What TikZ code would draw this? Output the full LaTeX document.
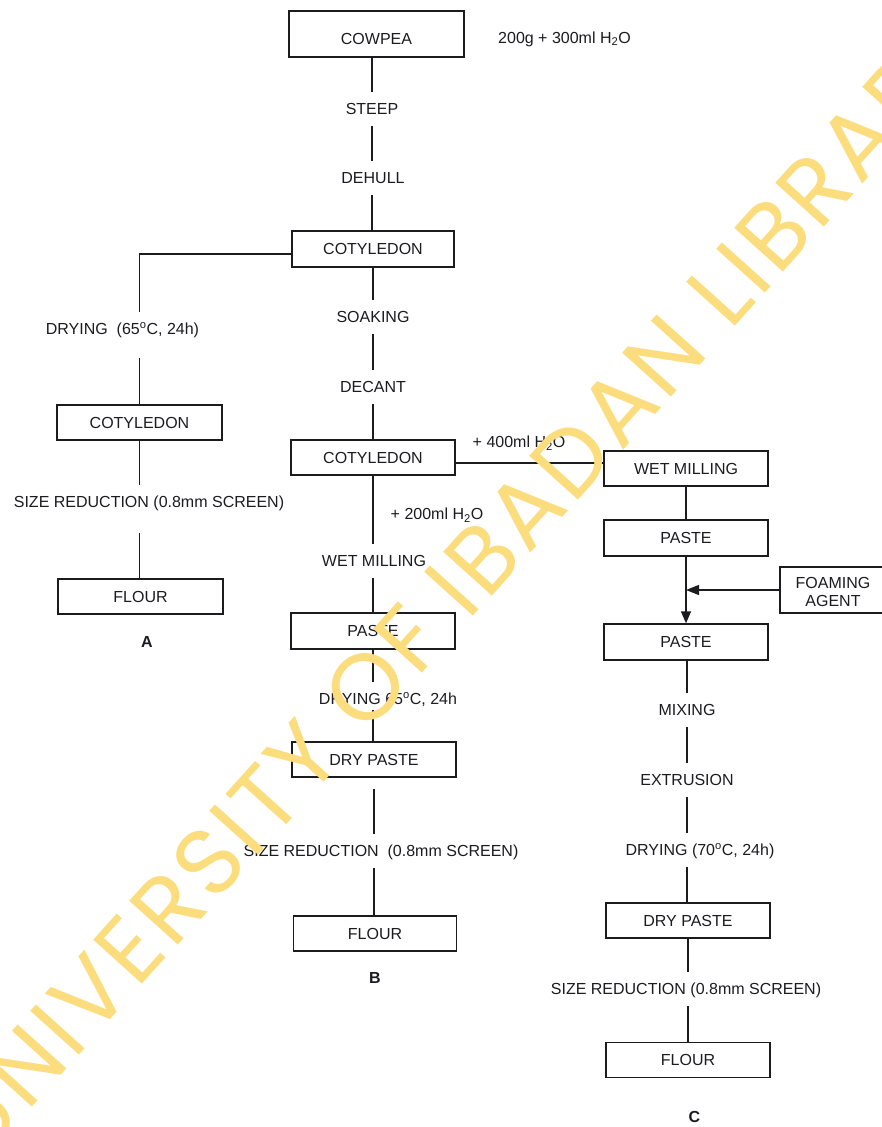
\documentclass[tikz,border=0pt]{standalone}
\usepackage{fontspec}
\setmainfont{Liberation Sans}
\newfontfamily\wmfont{Poppins}[LetterSpace=4.5]
\usetikzlibrary{arrows.meta,calc}
\definecolor{ink}{RGB}{28,28,32}
\definecolor{wmyellow}{RGB}{252,221,125}
\newlength\wmw
\newlength\wmi
\begin{document}
\settowidth\wmw{\wmfont\fontsize{94}{94}\selectfont UNIVERSITY OF IBADAN L}%
\settowidth\wmi{\wmfont\fontsize{94}{94}\selectfont I}%
\addtolength\wmw{0.5\wmi}%
\begin{tikzpicture}[x=1pt,y=-1pt,
  every node/.style={font=\fontsize{16}{19}\selectfont, text=ink},
  box/.style={draw=ink, line width=1.4pt, minimum height=35pt, inner sep=0pt, text height=11.5pt, text depth=0pt},
  lbl/.style={inner xsep=2pt, inner ysep=11.5pt, text height=11.5pt, text depth=0pt},
  conn/.style={draw=ink, line width=1.4pt},
  tag/.style={font=\fontsize{16}{19}\selectfont\bfseries},
  tip/.style={-{Triangle[length=12pt,width=10pt]}}
]
\fill[white] (0,0) rectangle (882,1127);
\useasboundingbox (0,0) rectangle (882,1127);

% top
\node[box, minimum width=175pt, minimum height=46pt, text height=21.5pt] (cowpea) at (376.5,34) {COWPEA};
\node (ratio) at (564.5,39) {200g + 300ml H\textsubscript{2}O};
\node[lbl] (steep) at (372,109) {STEEP};
\node[lbl] (dehull) at (373,178) {DEHULL};
\node[box, minimum width=162pt, minimum height=36pt] (cot1) at (373,249) {COTYLEDON};

% column A
\node[lbl] (dryA) at (122.5,329) {DRYING \ (65\textsuperscript{o}C, 24h)};
\node[box, minimum width=165pt] (cotA) at (139.5,422.5) {COTYLEDON};
\node[lbl] (sizeA) at (149,502) {SIZE REDUCTION (0.8mm SCREEN)};
\node[box, minimum width=165pt] (flourA) at (140.5,596.5) {FLOUR};
\node[tag] (labA) at (147,642) {A};

% column B
\node[lbl] (soak) at (373,317) {SOAKING};
\node[lbl] (decant) at (373,387) {DECANT};
\node[box, minimum width=164pt] (cot2) at (373,457.5) {COTYLEDON};
\node (add200) at (437,515) {+ 200ml H\textsubscript{2}O};
\node[lbl] (wetB) at (374,561) {WET MILLING};
\node[box, minimum width=164pt, minimum height=36pt] (pasteB) at (373,631) {PASTE};
\node[lbl] (dryB) at (388,699) {DRYING 65\textsuperscript{o}C, 24h};
\node[box, minimum width=164pt] (dryBox) at (374,759.5) {DRY PASTE};
\node[lbl] (sizeB) at (381,851) {SIZE REDUCTION \ (0.8mm SCREEN)};
\node[box, minimum width=163pt] (flourB) at (375,933.5) {FLOUR};
\node[tag] (labB) at (375,978) {B};

% column C
\node (add400) at (519,443) {+ 400ml H\textsubscript{2}O};
\node[box, minimum width=164pt] (wetC) at (686,468.5) {WET MILLING};
\node[box, minimum width=164pt, minimum height=36pt] (pasteC1) at (686,538) {PASTE};
\node[box, minimum width=124pt, minimum height=46pt] (foam) at (842,590) {};
\node[align=center, font=\fontsize{16}{18.7}\selectfont] (foamtxt) at (833,592) {FOAMING\\AGENT};
\node[box, minimum width=164pt, minimum height=36pt] (pasteC2) at (686,642) {PASTE};
\node[lbl] (mix) at (687,710) {MIXING};
\node[lbl] (extr) at (687,780) {EXTRUSION};
\node[lbl] (dryC) at (700,850) {DRYING (70\textsuperscript{o}C, 24h)};
\node[box, minimum width=164pt] (dryCbox) at (688,920.5) {DRY PASTE};
\node[lbl] (sizeC) at (686,989) {SIZE REDUCTION (0.8mm SCREEN)};
\node[box, minimum width=164pt] (flourC) at (688,1060) {FLOUR};
\node[tag] (labC) at (694.5,1117) {C};

% connectors: top
\draw[conn] (cowpea.south -| steep.north) -- (steep.north);
\draw[conn] (steep.south) -- (steep.south |- dehull.north);
\draw[conn] (dehull.south -| steep.south) -- (cot1.north -| steep.south);

% column A
\draw[conn] ($(cot1.west)+(0,5)$) -| (cotA.north |- dryA.north);
\draw[conn] ($(cotA.north |- dryA.south)+(0,12)$) -- (cotA.north);
\draw[conn] (cotA.south) -- (cotA.south |- sizeA.north);
\draw[conn] ($(cotA.south |- sizeA.south)+(0,14)$) -- (flourA.north -| cotA.south);

% column B
\draw[conn] (cot1.south) -- (soak.north);
\draw[conn] (soak.south) -- (decant.north);
\draw[conn] (decant.south) -- (cot2.north);
\draw[conn] (cot2.south) -- (cot2.south |- wetB.north);
\draw[conn] (cot2.south |- wetB.south) -- (pasteB.north);
\draw[conn] (pasteB.south) -- (pasteB.south |- dryB.north);
\draw[conn] ($(pasteB.south |- dryB.south)+(0,-6)$) -- (dryBox.north -| pasteB.south);
\draw[conn] ($(dryBox.south)+(0,11)$) -- (dryBox.south |- sizeB.north);
\draw[conn] (dryBox.south |- sizeB.south) -- (flourB.north -| dryBox.south);

% column C
\draw[conn] ($(cot2.east)+(0,5.5)$) -- ($(wetC.west)+(0,-5.5)$);
\draw[conn] (wetC.south) -- (pasteC1.north);
\draw[conn, tip] (pasteC1.south) -- (pasteC2.north);
\draw[conn, -{Triangle[length=13pt,width=10pt]}] (foam.west) -- (foam.west -| pasteC1.south);
\draw[conn] (pasteC2.south -| mix.north) -- (mix.north);
\draw[conn] (mix.south) -- (extr.north);
\draw[conn] (extr.south) -- (extr.south |- dryC.north);
\draw[conn] (extr.south |- dryC.south) -- (extr.south |- dryCbox.north);
\draw[conn] (dryCbox.south) -- (dryCbox.south |- sizeC.north);
\draw[conn] (dryCbox.south |- sizeC.south) -- (flourC.north);

% watermark
\path (765,293) ++(228:\wmw) coordinate (wmstart);
\node[font=\wmfont\fontsize{94}{94}\selectfont, text=wmyellow, rotate=48, anchor=base west, inner sep=0pt] (wm) at (wmstart) {UNIVERSITY OF IBADAN LIBRARY};
\end{tikzpicture}
\end{document}
